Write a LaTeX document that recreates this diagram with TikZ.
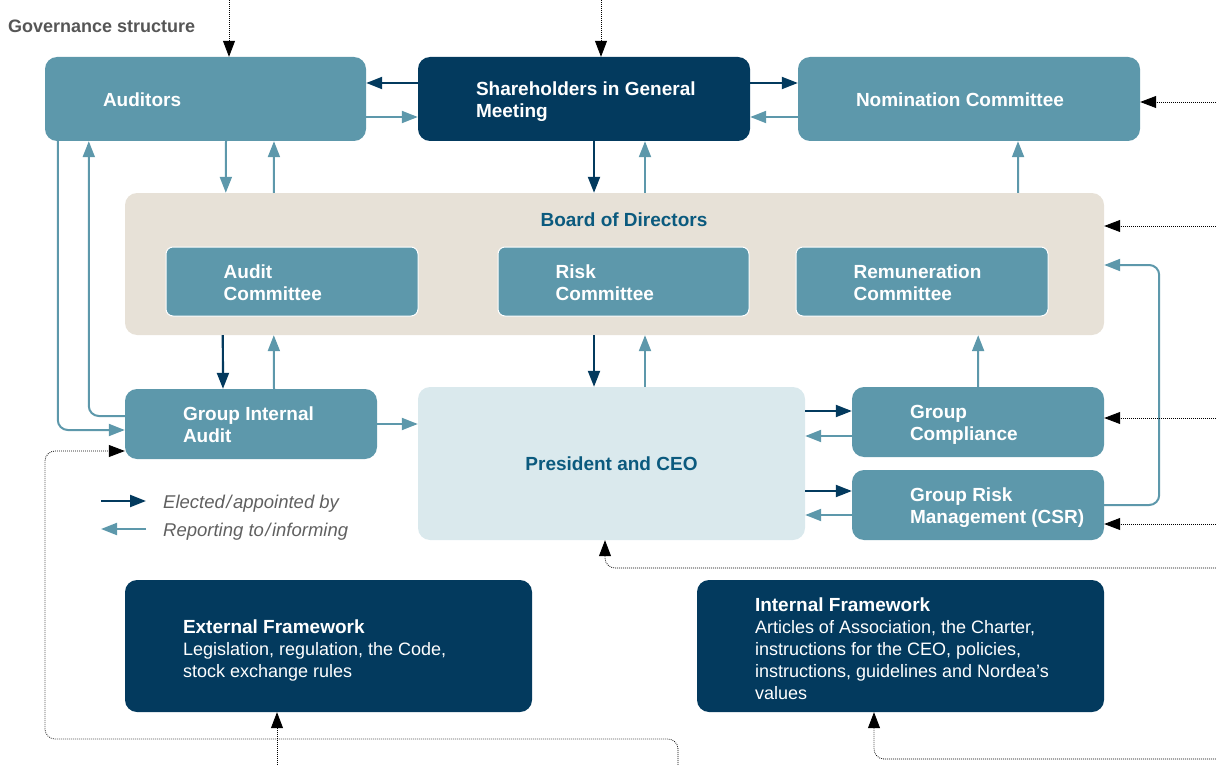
\documentclass[tikz,border=0pt]{standalone}
\usepackage{fontspec}
\setmainfont{Liberation Sans}
\usetikzlibrary{arrows.meta,positioning}
\definecolor{nteal}{HTML}{5D98AB}
\definecolor{nnavy}{HTML}{033A5E}
\definecolor{nbeige}{HTML}{E7E1D7}
\definecolor{nlight}{HTML}{DAE9ED}
\definecolor{ntitle}{HTML}{0B5A7E}
\definecolor{ngrey}{HTML}{606060}
\tikzset{>={Triangle[length=16pt,width=12pt]}}

\begin{document}
\begin{tikzpicture}[x=1pt, y=-1pt]
	\tikzstyle{box} = [rounded corners=12pt, fill=nteal, inner sep=0pt]
	\tikzstyle{darkbox} = [box, fill=nnavy]
	\tikzstyle{subbox} = [rounded corners=7pt, fill=nteal, draw=white, line width=1pt, inner sep=0pt]
	\tikzstyle{boxtext} = [inner sep=0pt, text depth=0pt, yshift=-1pt, text=white, align=left, font=\bfseries\fontsize{19}{22}\selectfont]
	\tikzstyle{fwtext} = [inner sep=0pt, text depth=0pt, yshift=-3pt, text=white, align=left, font=\fontsize{18}{22}\selectfont]
	\tikzstyle{legtext} = [anchor=west, inner sep=0pt, text depth=0pt, text=ngrey, font=\itshape\fontsize{18.5}{22}\selectfont]
	\tikzstyle{elect} = [->, draw=nnavy, line width=2.2pt]
	\tikzstyle{report} = [->, draw=nteal, line width=2pt, rounded corners=10pt]
	\tikzstyle{extern} = [->, draw=black, line width=0.8pt, dash pattern=on 0.8pt off 1.2pt, rounded corners=10pt]

	\useasboundingbox (0,0) rectangle (1216,765);

	\node[anchor=west, inner sep=0pt, text=ngrey!90!black, font=\bfseries\fontsize{18}{22}\selectfont] (title) at (8,26) {Governance structure};

%----------Top row------------------------------
	\node[box, minimum width=321pt, minimum height=84pt] (aud) at (205.5,99) {};
	\node[boxtext, right=58pt of aud.west] (audt) {Auditors};

	\node[darkbox, minimum width=332pt, minimum height=84pt] (sgm) at (584,99) {};
	\node[boxtext, right=58pt of sgm.west] (sgmt) {Shareholders in General\\Meeting};

	\node[box, minimum width=342pt, minimum height=84pt] (nom) at (969,99) {};
	\node[boxtext, right=58pt of nom.west] (nomt) {Nomination Committee};

%----------Board of Directors------------------------------
	\node[box, fill=nbeige, minimum width=979pt, minimum height=142pt] (bod) at (614.5,264) {};
	\node[inner sep=0pt, text=ntitle, font=\bfseries\fontsize{19}{22}\selectfont] (bodt) at (624,220) {Board of Directors};

	\node[subbox, minimum width=252pt, minimum height=69pt] (auc) at (292,281.5) {};
	\node[boxtext, right=58pt of auc.west] (auct) {Audit\\Committee};

	\node[subbox, minimum width=251pt, minimum height=69pt] (ric) at (623.5,281.5) {};
	\node[boxtext, right=58pt of ric.west] (rict) {Risk\\Committee};

	\node[subbox, minimum width=252pt, minimum height=69pt] (rec) at (922,281.5) {};
	\node[boxtext, right=58pt of rec.west] (rect) {Remuneration\\Committee};

%----------Management row------------------------------
	\node[box, minimum width=252pt, minimum height=70pt] (gia) at (251,424) {};
	\node[boxtext, right=58pt of gia.west] (giat) {Group Internal\\Audit};

	\node[box, fill=nlight, text=ntitle, font=\bfseries\fontsize{19}{22}\selectfont, minimum width=387pt, minimum height=153pt] (ceo) at (611.5,463.5) {President and CEO};

	\node[box, minimum width=252pt, minimum height=70pt] (gco) at (978,422) {};
	\node[boxtext, right=58pt of gco.west] (gcot) {Group\\Compliance};

	\node[box, minimum width=252pt, minimum height=70pt] (grm) at (978,505) {};
	\node[boxtext, right=58pt of grm.west] (grmt) {Group Risk\\Management (CSR)};

%----------Frameworks------------------------------
	\node[darkbox, minimum width=407pt, minimum height=132pt] (exf) at (328.5,646) {};
	\node[fwtext, right=58pt of exf.west] (exft) {{\bfseries\fontsize{19}{22}\selectfont External Framework}\\Legislation, regulation, the Code,\\stock exchange rules};

	\node[darkbox, minimum width=407pt, minimum height=132pt] (inf) at (900.5,646) {};
	\node[fwtext, right=58pt of inf.west] (inft) {{\bfseries\fontsize{19}{22}\selectfont Internal Framework}\\Articles of Association, the Charter,\\instructions for the CEO, policies,\\instructions, guidelines and Nordea's\\values};

%----------Legend------------------------------
	\node[legtext] (leg1) at (163,502) {Elected\kern1.5pt/\kern1.5pt appointed by};
	\node[legtext] (leg2) at (163,530) {Reporting to\kern1.5pt/\kern1.5pt informing};
	\draw[elect] ([xshift=-62pt,yshift=1pt]leg1.west) -- ([xshift=-17pt,yshift=1pt]leg1.west);
	\draw[report] ([xshift=-17pt,yshift=1pt]leg2.west) -- ([xshift=-62pt,yshift=1pt]leg2.west);

%----------Elected / appointed by------------------------------
	\draw[elect] ([yshift=16pt]sgm.west) -- ([yshift=16pt]aud.east);
	\draw[elect] ([yshift=16pt]sgm.east) -- ([yshift=16pt]nom.west);
	\draw[elect] ([xshift=10pt]sgm.south) -- ([xshift=-20.5pt]bod.north);
	\draw[elect] ([xshift=98pt]bod.south west) -- ([xshift=-28pt]gia.north);
	\draw[elect] ([xshift=-20.5pt]bod.south) -- ([xshift=-17.5pt]ceo.north);
	\draw[elect] ([yshift=52.5pt]ceo.east) -- ([yshift=11pt]gco.west);
	\draw[elect] ([yshift=-27.5pt]ceo.east) -- ([yshift=14pt]grm.west);

%----------Reporting to / informing------------------------------
	\draw[report] ([yshift=-18pt]aud.east) -- ([yshift=-18pt]sgm.west);
	\draw[report] ([yshift=-18pt]nom.west) -- ([yshift=-18pt]sgm.east);
	\draw[report] ([xshift=30.5pt]bod.north) -- ([xshift=61pt]sgm.south);
	\draw[report] ([xshift=20.5pt]aud.south) -- ([xshift=101pt]bod.north west);
	\draw[report] ([xshift=149pt]bod.north west) -- ([xshift=68.5pt]aud.south);
	\draw[report] ([xshift=-86pt]bod.north east) -- ([xshift=49pt]nom.south);
	\draw[report] ([xshift=23pt]gia.north) -- ([xshift=149pt]bod.south west);
	\draw[report] ([xshift=33.5pt]ceo.north) -- ([xshift=30.5pt]bod.south);
	\draw[report] (gco.north) -- ([xshift=-126pt]bod.south east);
	\draw[report] (gia.east) -- (gia.east -| ceo.west);
	\draw[report] ([yshift=-14pt]gco.west) -- ([yshift=27.5pt]ceo.east);
	\draw[report] ([yshift=-10pt]grm.west) -- ([yshift=-51.5pt]ceo.east);
	\draw[report] (grm.east) -- ++(55,0) |- ([yshift=-1pt]bod.east);
	\draw[report] ([xshift=13pt]aud.south west) |- ([yshift=-6pt]gia.west);
	\draw[report] ([yshift=8pt]gia.west) -| ([xshift=44pt]aud.south west);

%----------Outside links------------------------------
	\coordinate (audin) at (229,0);
	\coordinate (sgmin) at (601,0);
	\coordinate (nomin) at (1216,102);
	\coordinate (bodin) at (1216,226);
	\coordinate (gcoin) at (1216,418);
	\coordinate (grmin) at (1216,524);
	\coordinate (ceoin) at (1216,568);
	\coordinate (infin) at (1216,759);
	\coordinate (exfin) at (277,765);
	\coordinate (giain) at (678,765);

	\draw[extern] (audin) -- ([xshift=23.5pt]aud.north);
	\draw[extern] (sgmin) -- ([xshift=17pt]sgm.north);
	\draw[extern] (nomin) -- ([yshift=-3pt]nom.east);
	\draw[extern] (bodin) -- ([yshift=38pt]bod.east);
	\draw[extern] (gcoin) -- ([yshift=4pt]gco.east);
	\draw[extern] (grmin) -- ([yshift=-19pt]grm.east);
	\draw[extern] (ceoin) -| ([xshift=-6.5pt]ceo.south);
	\draw[extern] (infin) -| ([xshift=-26.5pt]inf.south);
	\draw[extern] (exfin) -- ([xshift=-51.5pt]exf.south);
	\draw[extern] (giain) |- (45,739) |- ([yshift=-27pt]gia.west);
\end{tikzpicture}
\end{document}
